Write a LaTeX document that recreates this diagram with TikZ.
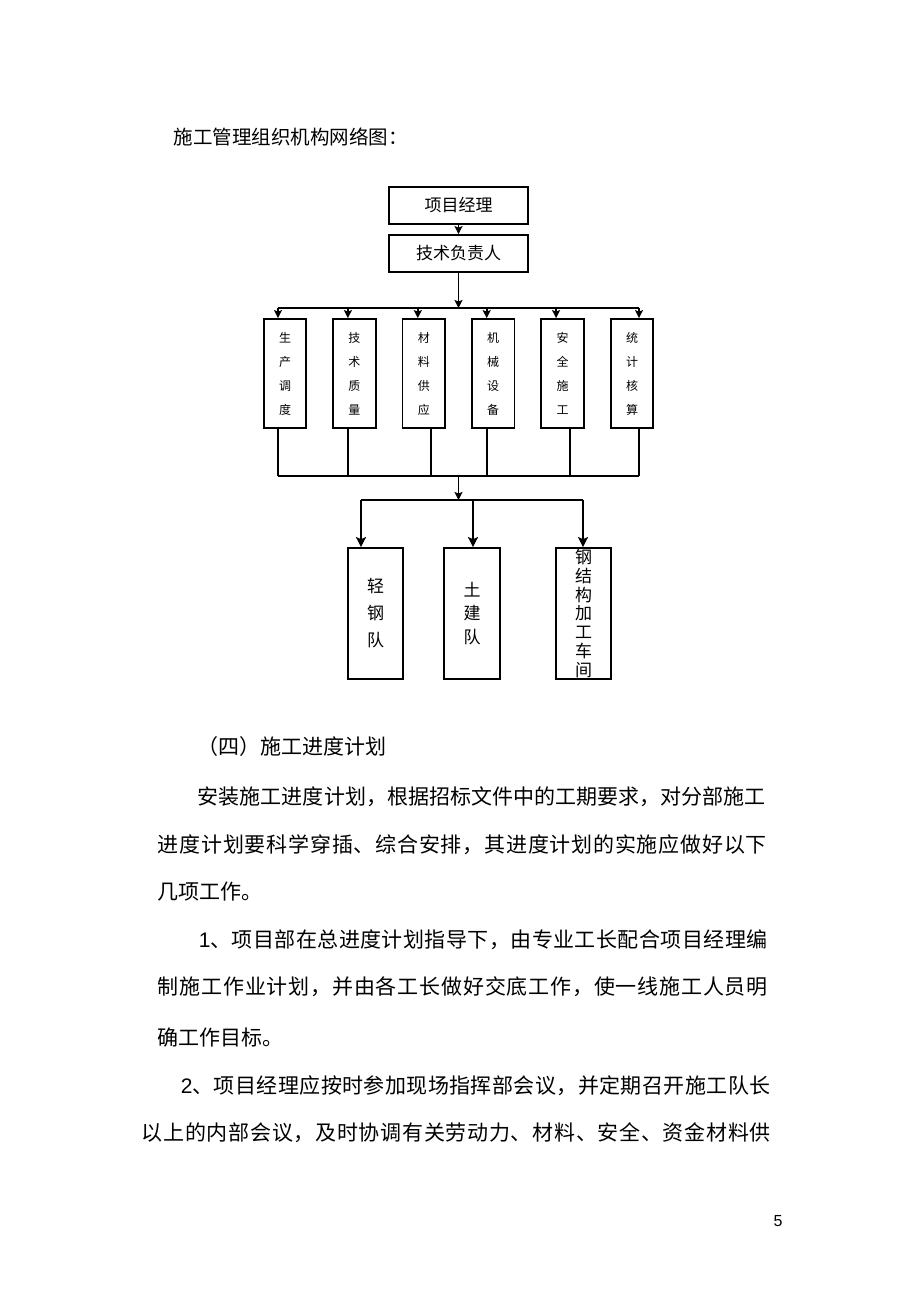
\documentclass[tikz,border=0pt]{standalone}
\usepackage{fontspec}
\setmainfont{Noto Sans CJK SC}
\newfontfamily\numfont{Liberation Sans}
\usetikzlibrary{positioning}
\usetikzlibrary{arrows.meta}
\makeatletter
\newcommand\spreadtext[2]{\hbox to #1{\spread@text#2\@nil\unskip}}
\def\spread@text#1{\ifx#1\@nil\else#1\hskip 0pt plus 1fil minus 1pt\relax\expandafter\spread@text\fi}
\makeatother

\begin{document}
\begin{tikzpicture}[x=1pt, y=-1pt, line width=1.6pt,                                   % Pixel units
        >={Stealth[length=8pt, width=8pt, inset=1.5pt]},                                % Arrow tips
        node distance = 48pt and 69.4pt, on grid,                                       % Node placement settings
        box/.style = {draw, line width=1.8pt, inner sep=0pt, align=center},             % Defining boxes
        head/.style = {box, minimum width=139pt, minimum height=37pt, font=\fontsize{17}{17}\selectfont},
        dept/.style = {box, minimum width=42.5pt, minimum height=109pt, font=\fontsize{12}{24}\selectfont},
        team/.style = {box, minimum width=55.5pt, minimum height=131pt, font=\fontsize{17}{27}\selectfont},
        para/.style = {anchor=west, inner sep=0pt, font=\fontsize{21}{21}\selectfont}]  % Text lines
    \useasboundingbox (0,0) rectangle (920,1303);
    \node[para, font=\fontsize{19.5}{19.5}\selectfont] (title) at (173,137) {施工管理组织机构网络图：};
    % chart
    \node[head] (pm) at (458.5,205.5) {项目经理};
    \node[head] (tech) [below =of pm] {技术负责人};
    \node[dept] (dept1) at (285,373.5) {生\\产\\调\\度};
    \node[dept] (dept2) [right =of dept1] {技\\术\\质\\量};
    \node[dept] (dept3) [right =of dept2] {材\\料\\供\\应};
    \node[dept] (dept4) [right =of dept3] {机\\械\\设\\备};
    \node[dept] (dept5) [right =of dept4] {安\\全\\施\\工};
    \node[dept] (dept6) [right =of dept5] {统\\计\\核\\算};
    \node[team] (team1) at (375.5,613.5) {轻\\钢\\队};
    \node[team, font=\fontsize{17}{23.5}\selectfont] (team2) [right =96.5pt of team1] {土\\建\\队};
    \node[team, font=\fontsize{17}{18.7}\selectfont] (team3) [right =111.5pt of team2] {钢\\结\\构\\加\\工\\车\\间};
    \coordinate (bus1) at (458.5,308);
    \coordinate (bus2) at (458.5,476);
    \coordinate (bus3) at (458.5,500);
    \foreach \i/\dx in {1/-7,2/-6.5,3/-6,4/-6.5,5/-6.5,6/7}
        \coordinate (in\i) at ([xshift=\dx pt]dept\i.north);
    \foreach \i/\dx in {1/-7,2/-6.5,3/7,4/-6.5,5/7.5,6/7}
        \coordinate (out\i) at ([xshift=\dx pt]dept\i.south);
    \foreach \i/\dx in {1/-14.5,2/1,3/-0.5}
        \coordinate (top\i) at ([xshift=\dx pt]team\i.north);
    %edge:down
    \draw[->] (pm) -- (tech);
    \draw[->] (tech) -- (bus1);
    \draw (in1 |- bus1) -- (in6 |- bus1);
    \foreach \i in {1,...,6}
        \draw[->] (in\i |- bus1) -- (in\i);
    %edge:gather
    \foreach \i in {1,...,6}
        \draw (out\i) -- (out\i |- bus2);
    \draw[line width=2.2pt] (out1 |- bus2) -- (out6 |- bus2);
    \draw[->] (bus2) -- (bus3);
    %edge:teams
    \draw[line width=1.9pt] (top1 |- bus3) -- (top3 |- bus3);
    \foreach \i in {1,2,3}
        \draw[line width=1.9pt, -{Stealth[length=10pt, width=10pt, inset=2pt]}] (top\i |- bus3) -- (top\i);
    % page text
    \node[para] (sec) at (197,747) {（四）施工进度计划};
    \node[para] (p1) at (197,797) {\spreadtext{568pt}{安装施工进度计划，根据招标文件中的工期要求，对分部施工}};
    \node[para] (p2) at (157,845) {\spreadtext{609pt}{进度计划要科学穿插、综合安排，其进度计划的实施应做好以下}};
    \node[para] (p3) at (157,892) {几项工作。};
    \node[para] (p4) at (198,940) {{\numfont 1}\spreadtext{557pt}{、项目部在总进度计划指导下，由专业工长配合项目经理编}};
    \node[para] (p5) at (157,987) {\spreadtext{610pt}{制施工作业计划，并由各工长做好交底工作，使一线施工人员明}};
    \node[para] (p6) at (157,1037) {确工作目标。};
    \node[para] (p7) at (180,1086) {{\numfont 2}\spreadtext{578pt}{、项目经理应按时参加现场指挥部会议，并定期召开施工队长}};
    \node[para] (p8) at (141,1133) {\spreadtext{629pt}{以上的内部会议，及时协调有关劳动力、材料、安全、资金材料供}};
    \node[font=\numfont\fontsize{16}{16}\selectfont] (page) at (778,1221) {5};
\end{tikzpicture}
\end{document}
